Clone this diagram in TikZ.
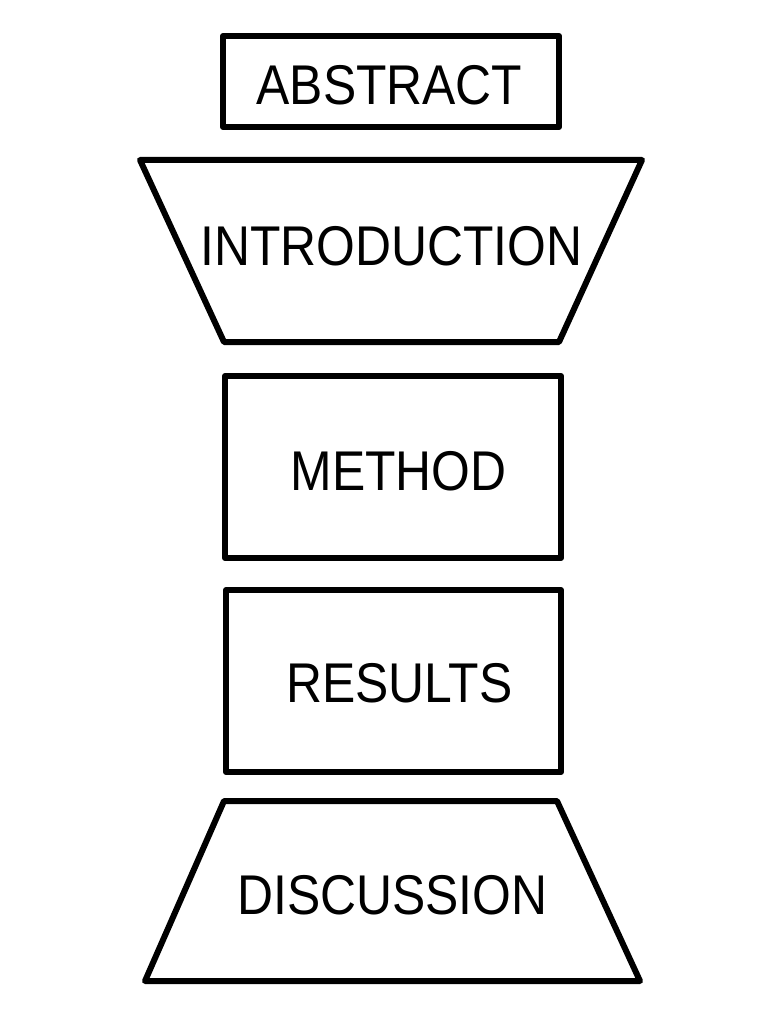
\documentclass[tikz,border=0pt]{standalone}
\usepackage{fontspec}
\newfontfamily\labfont[FakeStretch=0.89]{Liberation Sans}
\begin{document}
\begin{tikzpicture}[x=1pt,y=-1pt,
  outline/.style={draw=black,line width=6pt,line join=round},
  lbl/.style={anchor=base,inner sep=0pt,font=\labfont\fontsize{56}{60}\selectfont}]
\useasboundingbox (0,0) rectangle (771,1024);
% shapes
\draw[outline] (223,36) rectangle (559,127);
\draw[outline] (140,160) -- (642,160) -- (559,342) -- (224,342) -- cycle;
\draw[outline] (225,376) rectangle (561,558);
\draw[outline] (226,590) rectangle (561,772);
\draw[outline] (224,801) -- (557,801) -- (640,981) -- (145,981) -- cycle;
% labels
\node[lbl] (abstract) at (389.5,105) {ABSTRACT};
\node[lbl] (intro) at (391.5,265) {INTRODUCTION};
\node[lbl] (method) at (398.5,490) {METHOD};
\node[lbl] (results) at (399.5,702) {RESULTS};
\node[lbl] (discussion) at (392.5,914) {DISCUSSION};
\end{tikzpicture}
\end{document}
